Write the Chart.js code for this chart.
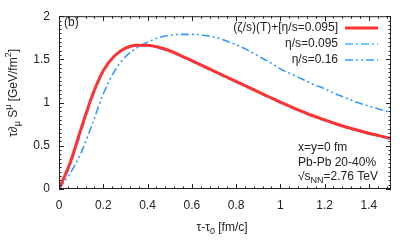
<!DOCTYPE html>
<html>
<head>
<meta charset="utf-8">
<script src="https://cdn.jsdelivr.net/npm/chart.js@4/dist/chart.umd.min.js"></script>
<style>
  html, body { margin: 0; padding: 0; background: #fff; }
  #wrap { width: 411px; height: 247px; position: relative; }
</style>
</head>
<body>
<div id="wrap"><canvas id="c"></canvas></div>
<script>
// proper time axis tau - tau0 [fm/c]
const tau = [0, 0.05, 0.1, 0.15, 0.2, 0.25, 0.3, 0.35, 0.4, 0.45, 0.5,
  0.55, 0.6, 0.65, 0.7, 0.75, 0.8, 0.85, 0.9, 0.95, 1.0,
  1.05, 1.1, 1.15, 1.2, 1.25, 1.3, 1.35, 1.4, 1.45, 1.5];

// (zeta/s)(T)+[eta/s=0.095]
const bulkVisc = [0, 0.30, 0.70, 1.08, 1.37, 1.54, 1.63, 1.665, 1.665, 1.64, 1.60,
  1.545, 1.485, 1.425, 1.365, 1.305, 1.245, 1.185, 1.125, 1.065, 1.005,
  0.95, 0.895, 0.845, 0.80, 0.755, 0.715, 0.68, 0.645, 0.615, 0.585];

// eta/s=0.095
const eta095 = [0, 0.27, 0.66, 1.05, 1.35, 1.53, 1.62, 1.66, 1.66, 1.63, 1.59,
  1.535, 1.475, 1.415, 1.355, 1.295, 1.235, 1.175, 1.115, 1.055, 0.995,
  0.94, 0.885, 0.835, 0.79, 0.745, 0.705, 0.67, 0.635, 0.605, 0.575];

// eta/s=0.16
const eta016 = [0, 0.18, 0.42, 0.75, 1.10, 1.36, 1.53, 1.63, 1.70, 1.75, 1.78,
  1.79, 1.79, 1.78, 1.76, 1.72, 1.67, 1.61, 1.54, 1.47, 1.39,
  1.33, 1.27, 1.21, 1.16, 1.10, 1.05, 1.00, 0.96, 0.92, 0.885];

const xTicks = [0, 0.2, 0.4, 0.6, 0.8, 1, 1.2, 1.4];
const yTicks = [0, 0.5, 1, 1.5, 2];

const FONT = '"Liberation Sans", Arial, sans-serif';
const RED = '#ff3333';
const LIGHT = '#66ccff';
const BLUE = '#3399ff';

function pts(ys) {
  return tau.map((t, i) => ({ x: t, y: ys[i] }));
}

// draw text made of normal / sub / sup pieces
function richText(ctx, parts, x, y, align) {
  const big = '12px ' + FONT, small = '9px ' + FONT;
  let w = 0;
  parts.forEach(p => {
    ctx.font = p[1] === 'n' ? big : small;
    w += ctx.measureText(p[0]).width;
  });
  let cx = align === 'center' ? x - w / 2 : (align === 'right' ? x - w : x);
  ctx.textAlign = 'left';
  ctx.textBaseline = 'middle';
  parts.forEach(p => {
    ctx.font = p[1] === 'n' ? big : small;
    const dy = p[1] === 'sub' ? 4 : (p[1] === 'sup' ? -5 : 0);
    ctx.fillText(p[0], cx, y + dy);
    cx += ctx.measureText(p[0]).width;
  });
}

const framePlugin = {
  id: 'frame',
  afterDatasetsDraw(chart) {
    const { ctx, chartArea: a, scales } = chart;
    const xs = scales.x, ys = scales.y;
    ctx.save();
    ctx.strokeStyle = '#222';
    ctx.lineWidth = 1;
    ctx.strokeRect(a.left + 0.5, a.top + 0.5, a.right - a.left - 1, a.bottom - a.top - 1);
    ctx.beginPath();
    // x ticks, minor every 0.04
    for (let k = 0; k <= 37; k++) {
      const v = k * 0.04;
      const px = Math.round(xs.getPixelForValue(v)) + 0.5;
      const len = (k % 5 === 0) ? 5 : 2.5;
      ctx.moveTo(px, a.bottom); ctx.lineTo(px, a.bottom - len);
      ctx.moveTo(px, a.top); ctx.lineTo(px, a.top + len);
    }
    // y ticks, minor every 0.05
    for (let k = 0; k <= 40; k++) {
      const v = k * 0.05;
      const py = Math.round(ys.getPixelForValue(v)) + 0.5;
      const len = (k % 10 === 0) ? 5 : 2.5;
      ctx.moveTo(a.left, py); ctx.lineTo(a.left + len, py);
      ctx.moveTo(a.right, py); ctx.lineTo(a.right - len, py);
    }
    ctx.stroke();

    ctx.fillStyle = '#222';
    richText(ctx, [['(b)', 'n']], 64, 23, 'left');

    // legend
    const leg = [
      ['(\u03b6/s)(T)+[\u03b7/s=0.095]', RED, 3, []],
      ['\u03b7/s=0.095', LIGHT, 2, [8, 3, 2, 3]],
      ['\u03b7/s=0.16', BLUE, 1.6, [8, 3, 2, 3, 2, 3]]
    ];
    const legY = [28, 44, 60];
    leg.forEach((l, i) => {
      ctx.fillStyle = '#222';
      richText(ctx, [[l[0], 'n']], 338, legY[i], 'right');
      ctx.beginPath();
      ctx.strokeStyle = l[1];
      ctx.lineWidth = l[2];
      ctx.setLineDash(l[3]);
      ctx.moveTo(345, legY[i]); ctx.lineTo(378, legY[i]);
      ctx.stroke();
    });
    ctx.setLineDash([]);

    // annotation
    ctx.fillStyle = '#222';
    richText(ctx, [['x=y=0 fm', 'n']], 298, 148, 'left');
    richText(ctx, [['Pb-Pb 20-40%', 'n']], 298, 163, 'left');
    richText(ctx, [['\u221as', 'n'], ['NN', 'sub'], ['=2.76 TeV', 'n']], 298, 177, 'left');

    // axis titles
    richText(ctx, [['\u03c4-\u03c4', 'n'], ['0', 'sub'], [' [fm/c]', 'n']], 222, 228, 'center');
    ctx.save();
    ctx.translate(14, 93);
    ctx.rotate(-Math.PI / 2);
    richText(ctx, [['\u03c4\u2202', 'n'], ['\u03bc', 'sub'], [' S', 'n'], ['\u03bc', 'sup'],
      [' [GeV/fm', 'n'], ['2', 'sup'], [']', 'n']], 0, 0, 'center');
    ctx.restore();
    ctx.restore();
  }
};

new Chart(document.getElementById('c'), {
  type: 'line',
  data: {
    datasets: [
      { label: '(\u03b6/s)(T)+[\u03b7/s=0.095]', data: pts(bulkVisc), borderColor: RED, borderWidth: 3 },
      { label: '\u03b7/s=0.095', data: pts(eta095), borderColor: LIGHT, borderWidth: 2, borderDash: [8, 3, 2, 3] },
      { label: '\u03b7/s=0.16', data: pts(eta016), borderColor: BLUE, borderWidth: 1.6, borderDash: [8, 3, 2, 3, 2, 3] }
    ]
  },
  options: {
    responsive: true,
    maintainAspectRatio: false,
    animation: false,
    devicePixelRatio: 1,
    layout: { padding: { top: 13, right: 20, left: 0, bottom: 0 } },
    elements: {
      point: { radius: 0 },
      line: { fill: false, cubicInterpolationMode: 'monotone' }
    },
    plugins: { legend: { display: false }, tooltip: { enabled: false } },
    scales: {
      x: {
        type: 'linear', min: 0, max: 1.5,
        grid: { display: false, drawTicks: false },
        border: { display: false },
        afterBuildTicks: s => { s.ticks = xTicks.map(v => ({ value: v })); },
        afterFit: s => { s.height = 58; },
        ticks: {
          padding: 9, color: '#222', maxRotation: 0,
          font: { family: FONT, size: 12 },
          callback: v => String(v)
        }
      },
      y: {
        type: 'linear', min: 0, max: 2,
        grid: { display: false, drawTicks: false },
        border: { display: false },
        afterBuildTicks: s => { s.ticks = yTicks.map(v => ({ value: v })); },
        afterFit: s => { s.width = 59; },
        ticks: {
          padding: 9, color: '#222',
          font: { family: FONT, size: 12 },
          callback: v => String(v)
        }
      }
    }
  },
  plugins: [framePlugin]
});
</script>
</body>
</html>
